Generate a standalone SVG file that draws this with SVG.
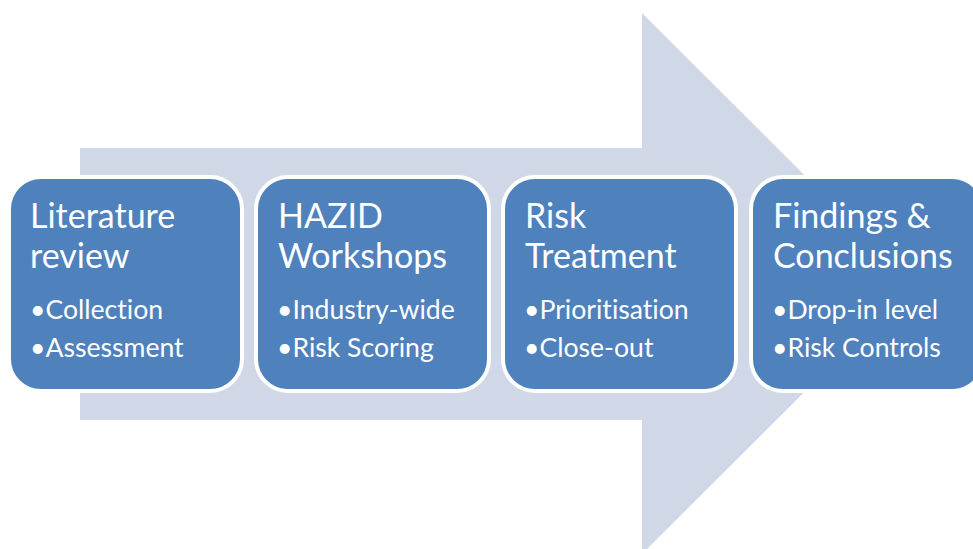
<svg xmlns="http://www.w3.org/2000/svg" width="973" height="549" viewBox="0 0 973 549">
<style>
.box{fill:#4F81BD;stroke:#FFFFFF;stroke-width:4}
.t{fill:#FFFFFF;font-family:Lato,"Open Sans",sans-serif;font-size:34px;font-variant-ligatures:none}
.b{fill:#FFFFFF;font-family:Lato,"Open Sans",sans-serif;font-size:26.6px;font-variant-ligatures:none}
</style>
<rect width="973" height="549" fill="#FFFFFF"/>
<g id="connectors">
<polygon id="process-arrow" points="80,148 642,148 642,13 913,283.5 642,554 642,420 80,420" fill="#D0D8E8"/>
</g>
<g id="node-literature">
<rect class="box" x="9" y="177" width="233" height="214" rx="32"/>
<text class="t" x="30" y="228">Literature</text>
<text class="t" x="30" y="268">review</text>
<text class="b" x="30" y="319">•Collection</text>
<text class="b" x="30" y="357">•Assessment</text>
</g>
<g id="node-hazid">
<rect class="box" x="256" y="177" width="233" height="214" rx="32"/>
<text class="t" x="278" y="228">HAZID</text>
<text class="t" x="278" y="268">Workshops</text>
<text class="b" x="277" y="319">•Industry-wide</text>
<text class="b" x="277" y="357">•Risk Scoring</text>
</g>
<g id="node-risk">
<rect class="box" x="503" y="177" width="233" height="214" rx="32"/>
<text class="t" x="525" y="228">Risk</text>
<text class="t" x="525" y="268">Treatment</text>
<text class="b" x="524" y="319">•Prioritisation</text>
<text class="b" x="524" y="357">•Close-out</text>
</g>
<g id="node-findings">
<rect class="box" x="751" y="177" width="233" height="214" rx="32"/>
<text class="t" x="773" y="228">Findings &amp;</text>
<text class="t" x="773" y="268">Conclusions</text>
<text class="b" x="772" y="319">•Drop-in level</text>
<text class="b" x="772" y="357">•Risk Controls</text>
</g>
</svg>
